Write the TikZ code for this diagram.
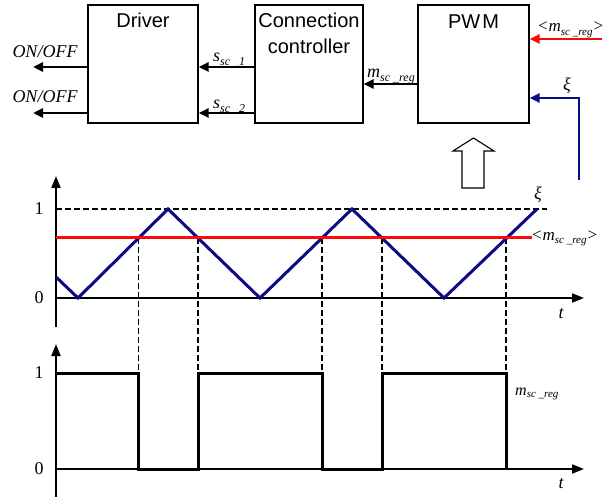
\documentclass[tikz,border=0pt]{standalone}
\usepackage{fontspec}
\setmainfont{Liberation Serif}
\newfontfamily\arialf{Liberation Sans}
\usetikzlibrary{arrows.meta}
\definecolor{navyb}{RGB}{10,10,130}
\definecolor{redl}{RGB}{250,10,10}
\newcommand\mysub[3][12]{\textit{#2}\raisebox{-0.4ex}{\fontsize{#1}{#1}\selectfont\textit{#3}}}
\begin{document}
\begin{tikzpicture}[x=1pt,y=-1pt,
  box/.style={draw, line width=1.1pt, minimum height=118pt, inner sep=0pt},
  btext/.style={font=\arialf\fontsize{20}{26}\selectfont, inner sep=0pt, align=center},
  lab/.style={font=\fontsize{18}{20}\selectfont\itshape, inner sep=0pt},
  num/.style={font=\fontsize{18}{20}\selectfont, inner sep=0pt},
  sig/.style={line width=2.8pt, -{Triangle[length=10pt,width=9pt]}},
  axis/.style={line width=1.9pt, -{Triangle[length=12pt,width=9pt]}},
  wave/.style={line width=3pt, line join=miter},
  guide/.style={line width=1.5pt, dash pattern=on 6pt off 3pt}]
\useasboundingbox (0,0) rectangle (608,497);

% blocks
\node[box, minimum width=110pt] (drv) at (143,64) {};
\node[box, minimum width=108pt] (cc) at (309,64) {};
\node[box, minimum width=111pt] (pwm) at (473.5,64) {};
\node[btext, anchor=base] (drvt) at (143,28) {Driver};
\node[btext, anchor=north] (cct) at (309,13) {Connection\\controller};
\node[btext, anchor=base] (pwmt) at (473.5,29) {PW\kern2pt M};

% driver outputs
\coordinate (on1) at (33,67);
\coordinate (on2) at (33,113);
\draw[sig] (drv.west |- on1) -- (on1);
\draw[sig] (drv.west |- on2) -- (on2);
\node[lab, anchor=base] (onl1) at (45,58) {ON/OFF};
\node[lab, anchor=base] (onl2) at (45,103) {ON/OFF};

% controller to driver
\draw[sig] (cc.west |- on1) -- (drv.east |- on1);
\draw[sig] (cc.west |- on2) -- (drv.east |- on2);
\node[lab, anchor=base west] (s1) at (213,62) {\mysub{s}{sc \_1}};
\node[lab, anchor=base west] (s2) at (213,109) {\mysub{s}{sc \_2}};

% pwm to controller
\coordinate (mreg) at (0,84);
\draw[sig] (pwm.west |- mreg) -- (cc.east |- mreg);
\node[lab, anchor=base west] (ml) at (367,78) {\mysub{m}{sc \_reg}};

% inputs of pwm
\coordinate (rin) at (602,39);
\draw[sig, redl] (rin) -- (pwm.east |- rin);
\node[lab, anchor=base west, font=\fontsize{17}{19}\selectfont\itshape] (rl) at (537,32) {<\mysub[11]{m}{sc \_reg}>};
\coordinate (xi0) at (579,180);
\coordinate (xi1) at (579,98);
\draw[navyb, line width=1.4pt] (xi0) -- (xi1);
\draw[sig, navyb] ([xshift=0.7pt]xi1) -- (pwm.east |- xi1);
\node[lab, anchor=base] (xil) at (567,91) {ξ};

% hollow arrow
\draw[line width=1.1pt, line join=miter] (462,188) -- (462,151) -- (453,151) -- (473.5,138)
  -- (494,151) -- (484,151) -- (484,188) -- cycle;

% top plot
\draw[guide] (56,209) -- (547,209);
\foreach \x in {138.7,198,322,382,506}
  \draw[guide] (\x,238) -- (\x,373);
\draw[axis] (56,327) -- (56,176);
\draw[axis] (56,298) -- (584,298);
\draw[wave, navyb] (56,277) -- (78,298) -- (168,209) -- (260,298) -- (352,209) -- (444,298) -- (537,209);
\draw[wave, redl] (56,238) -- (532,238);
\node[num] (one1) at (39,209) {1};
\node[num] (zero1) at (39,298) {0};
\node[lab] (t1) at (561,314) {t};
\node[lab, anchor=base] (xi2) at (538,200) {ξ};
\node[lab, anchor=west, font=\fontsize{17}{19}\selectfont\itshape] (ml2) at (531,238) {<\mysub[11]{m}{sc \_reg}>};

% bottom plot
\draw[axis] (56,497) -- (56,344);
\draw[axis] (56,469) -- (584,469);
\draw[wave] (56,373) -- (138.7,373) -- (138.7,469) -- (198,469) -- (198,373) -- (322,373)
  -- (322,469) -- (382,469) -- (382,373) -- (506,373) -- (506,469);
\node[num] (one2) at (39,373) {1};
\node[num] (zero2) at (39,469) {0};
\node[lab] (t2) at (561,484) {t};
\node[lab, anchor=base west, font=\fontsize{16}{18}\selectfont\itshape] (ml3) at (515,395) {\mysub[11]{m}{sc \_reg}};
\end{tikzpicture}
\end{document}
